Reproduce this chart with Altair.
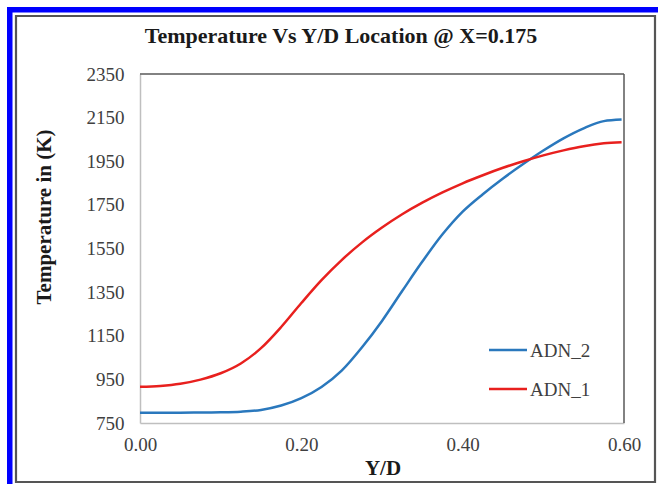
import altair as alt
import pandas as pd

# ---- data ----
yd = [0.0, 0.025, 0.05, 0.075, 0.1, 0.125, 0.15, 0.175, 0.2, 0.225, 0.25, 0.275,
      0.3, 0.325, 0.35, 0.375, 0.4, 0.425, 0.45, 0.475, 0.5, 0.525, 0.55, 0.575, 0.597]
adn_1 = [916, 920, 930, 949, 978, 1023, 1093, 1190, 1300, 1405, 1497, 1577,
         1646, 1707, 1760, 1807, 1849, 1886, 1920, 1950, 1977, 2000, 2019, 2032, 2037]
adn_2 = [797, 797, 797, 798, 799, 802, 810, 830, 864, 915, 990, 1096,
         1218, 1355, 1490, 1615, 1719, 1799, 1871, 1937, 1999, 2055, 2101, 2134, 2141]
series_names = ["ADN_2", "ADN_1"]
series_colors = ["#2A78BD", "#E8201E"]
y_ticks = [750, 950, 1150, 1350, 1550, 1750, 1950, 2150, 2350]
x_ticks = [0.0, 0.2, 0.4, 0.6]
title_text = "Temperature Vs Y/D Location @ X=0.175"
x_title = "Y/D"
y_title = "Temperature in (K)"

rows = []
for x, v in zip(yd, adn_2):
    rows.append({"yd": x, "temp": v, "series": "ADN_2"})
for x, v in zip(yd, adn_1):
    rows.append({"yd": x, "temp": v, "series": "ADN_1"})
df = pd.DataFrame(rows)
one = pd.DataFrame({"k": [0]})

FONT = "Liberation Serif"
LABEL_COLOR = "#404040"
W, H = 484, 349
LEFT, TOP = 140, 74

color_scale = alt.Scale(domain=series_names, range=series_colors)

lines = alt.Chart(df).mark_line(strokeWidth=2.5, interpolate="monotone").encode(
    x=alt.X("yd:Q",
            scale=alt.Scale(domain=[0, 0.6], nice=False, zero=False),
            axis=alt.Axis(values=x_ticks, format=".2f", title=None, grid=False,
                          ticks=False, labelPadding=12, labelFlush=False,
                          domainColor="#BFBFBF", domainWidth=1.5,
                          labelFont=FONT, labelFontSize=19, labelColor=LABEL_COLOR)),
    y=alt.Y("temp:Q",
            scale=alt.Scale(domain=[750, 2350], nice=False, zero=False),
            axis=alt.Axis(values=y_ticks, format="d", title=None, grid=False,
                          ticks=False, labelPadding=16, labelFlush=False,
                          domainColor="#BFBFBF", domainWidth=1.5,
                          labelFont=FONT, labelFontSize=19, labelColor=LABEL_COLOR)),
    color=alt.Color("series:N", scale=color_scale, legend=None),
)

# in-plot legend (one entry per series)
legend_layers = []
legend_rows_y = [350, 389]
for name, ly in zip(series_names, legend_rows_y):
    entry = pd.DataFrame({"series": [name]})
    legend_layers.append(
        alt.Chart(entry).mark_rule(strokeWidth=2.5).encode(
            x=alt.value(489 - LEFT), x2=alt.value(527 - LEFT), y=alt.value(ly - TOP),
            color=alt.Color("series:N", scale=color_scale, legend=None)))
    legend_layers.append(
        alt.Chart(entry).mark_text(font=FONT, fontSize=19, color=LABEL_COLOR,
                                   align="left", baseline="middle").encode(
            x=alt.value(530 - LEFT), y=alt.value(ly + 1 - TOP), text="series:N"))

# plot frame top/right (dark) edges
top_edge = alt.Chart(one).mark_rule(color="#595959", strokeWidth=1.5).encode(
    x=alt.value(0), x2=alt.value(W), y=alt.value(0))
right_edge = alt.Chart(one).mark_rule(color="#595959", strokeWidth=1.5).encode(
    x=alt.value(W), y=alt.value(0), y2=alt.value(H))

# decorative outer borders
blue_left = alt.Chart(one).mark_rect(color="#0000FF").encode(
    x=alt.value(7 - LEFT), x2=alt.value(12.5 - LEFT),
    y=alt.value(7 - TOP), y2=alt.value(484 - TOP))
blue_top = alt.Chart(one).mark_rect(color="#0000FF").encode(
    x=alt.value(7 - LEFT), x2=alt.value(658 - LEFT),
    y=alt.value(7 - TOP), y2=alt.value(12.5 - TOP))
gray_box = alt.Chart(one).mark_rect(fill=None, stroke="#555555", strokeWidth=2.2).encode(
    x=alt.value(16 - LEFT), x2=alt.value(655 - LEFT),
    y=alt.value(16 - TOP), y2=alt.value(482 - TOP))

title_mark = alt.Chart(one).mark_text(
    text=title_text, font=FONT, fontSize=22, fontWeight="bold", color="#1A1A1A",
    align="center", baseline="alphabetic").encode(
    x=alt.value(341 - LEFT), y=alt.value(43 - TOP))
xtitle_mark = alt.Chart(one).mark_text(
    text=x_title, font=FONT, fontSize=21, fontWeight="bold", color="#1A1A1A",
    align="center", baseline="alphabetic").encode(
    x=alt.value(383 - LEFT), y=alt.value(475 - TOP))
ytitle_mark = alt.Chart(one).mark_text(
    text=y_title, font=FONT, fontSize=21, fontWeight="bold", color="#1A1A1A",
    align="center", baseline="alphabetic", angle=270).encode(
    x=alt.value(51 - LEFT), y=alt.value(217 - TOP))

chart = alt.layer(
    blue_left, blue_top, gray_box, lines, top_edge, right_edge,
    *legend_layers, title_mark, xtitle_mark, ytitle_mark
).properties(
    width=W, height=H,
    autosize=alt.AutoSizeParams(type="none"),
    padding={"left": LEFT, "top": TOP, "right": 658 - LEFT - W, "bottom": 484 - TOP - H},
    background="white",
).configure(font=FONT).configure_view(stroke=None)

chart.save("out.html", embed_options={"renderer": "svg", "actions": False})
